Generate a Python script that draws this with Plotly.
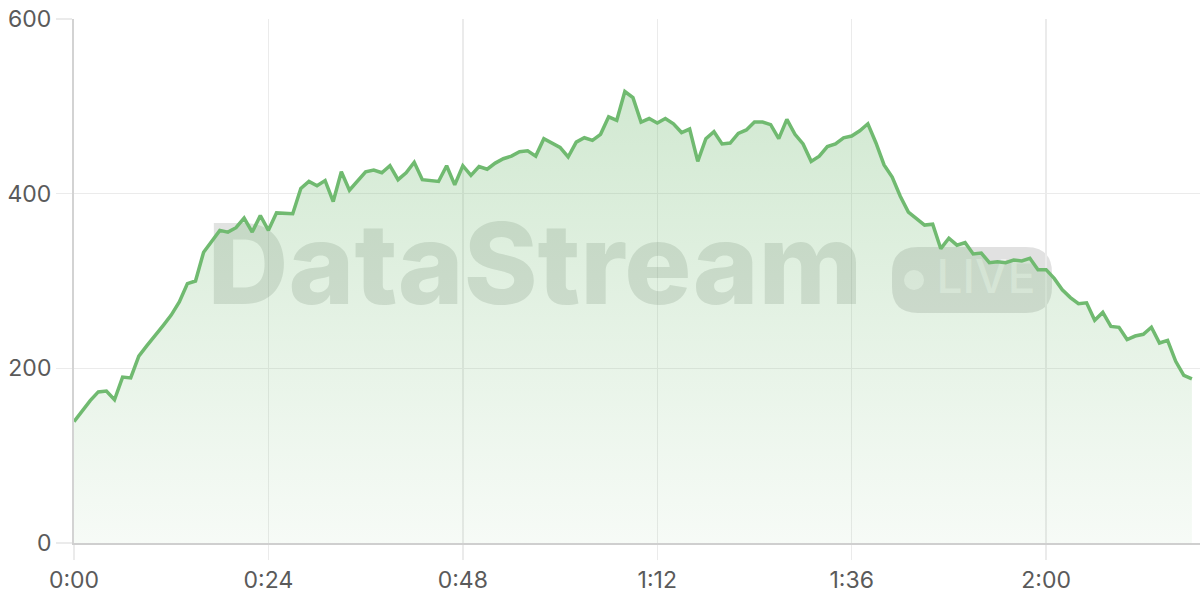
import plotly.graph_objects as go

# elapsed time in seconds (one sample per second)
seconds = list(range(139))
values = [139, 151, 163, 173, 174, 164, 190, 189, 214, 226, 237, 249, 261, 276, 297, 300, 333, 345, 358, 356,
          361, 372, 356, 375, 358, 378, 378, 377, 406, 414, 409, 415, 391, 425, 404, 414, 425, 427, 424, 432,
          416, 424, 436, 416, 415, 414, 432, 410, 432, 421, 431, 428, 435, 440, 443, 448, 449, 443, 463, 458,
          453, 442, 459, 464, 461, 468, 488, 484, 517, 510, 482, 486, 481, 486, 480, 470, 474, 437, 463, 471,
          457, 458, 469, 473, 482, 482, 479, 463, 485, 468, 457, 437, 443, 454, 457, 464, 466, 472, 480, 458,
          433, 419, 397, 379, 372, 364, 365, 337, 349, 341, 344, 331, 332, 321, 322, 321, 324, 323, 326, 313,
          313, 303, 290, 281, 274, 275, 255, 264, 248, 247, 233, 237, 239, 247, 229, 232, 208, 192, 188]
x_tick_values = [0, 24, 48, 72, 96, 120]
x_tick_labels = ["0:00", "0:24", "0:48", "1:12", "1:36", "2:00"]
y_tick_values = [0, 200, 400, 600]

W, H = 1200, 600
ML, MR, MT, MB = 74, 0, 19, 57
X_RANGE = [0, 139]
Y_RANGE = [0, 600]
PW, PH = W - ML - MR, H - MT - MB


def px_to_paper(px, py):
    return (px - ML) / PW, (H - MB - py) / PH


def px_to_data(px, py):
    fx, fy = px_to_paper(px, py)
    return X_RANGE[0] + fx * (X_RANGE[1] - X_RANGE[0]), Y_RANGE[0] + fy * (Y_RANGE[1] - Y_RANGE[0])


GREEN = "rgb(112,186,112)"

fig = go.Figure()

# watermark text (under the data)
wx, wy = px_to_data(535, 276)
lx, ly = px_to_data(986, 281)
fig.add_trace(go.Scatter(
    x=[wx], y=[wy], mode="text", text=["DataStream"], hoverinfo="skip", showlegend=False,
    textfont=dict(family="Inter", size=112, color="rgba(120,128,120,0.22)", weight=800),
))
fig.add_trace(go.Scatter(
    x=[lx], y=[ly], mode="text", text=["LIVE"], hoverinfo="skip", showlegend=False,
    textfont=dict(family="Inter", size=46, color="rgba(255,255,255,0.5)", weight=500),
))

fig.add_trace(go.Scatter(
    x=seconds, y=values, mode="lines",
    line=dict(color=GREEN, width=3.5),
    fill="tozeroy",
    fillgradient=dict(type="vertical", start=0, stop=520,
                      colorscale=[[0, "rgba(112,185,112,0.06)"], [1, "rgba(112,185,112,0.32)"]]),
    hoverinfo="skip", showlegend=False,
))

# LIVE badge rounded rectangle
x0, y0, x1, y1, r = 892, 247, 1052, 313, 26


def P(px, py):
    fx, fy = px_to_paper(px, py)
    return f"{fx:.5f},{fy:.5f}"


path = (f"M {P(x0 + r, y0)} L {P(x1 - r, y0)} Q {P(x1, y0)} {P(x1, y0 + r)} "
        f"L {P(x1, y1 - r)} Q {P(x1, y1)} {P(x1 - r, y1)} L {P(x0 + r, y1)} "
        f"Q {P(x0, y1)} {P(x0, y1 - r)} L {P(x0, y0 + r)} Q {P(x0, y0)} {P(x0 + r, y0)} Z")
fig.add_shape(type="path", path=path, xref="paper", yref="paper",
              fillcolor="rgba(128,128,128,0.24)", line=dict(width=0), layer="between")
cx0, cy0 = px_to_paper(914 - 10, 280 - 10)
cx1, cy1 = px_to_paper(914 + 10, 280 + 10)
fig.add_shape(type="circle", xref="paper", yref="paper", x0=cx0, y0=cy1, x1=cx1, y1=cy0,
              fillcolor="rgba(255,255,255,0.6)", line=dict(width=0), layer="between")

axis_font = dict(family="Inter, Roboto, sans-serif", size=23, color="#5a5a5a")
fig.update_layout(
    width=W, height=H, autosize=False,
    margin=dict(l=ML, r=MR, t=MT, b=MB, pad=0),
    paper_bgcolor="white", plot_bgcolor="white",
    hovermode=False,
    xaxis=dict(range=X_RANGE, tickvals=x_tick_values, ticktext=x_tick_labels,
               showgrid=True, gridcolor="#ebebeb", gridwidth=1.5,
               ticks="outside", ticklen=15, tickcolor="#ebebeb", tickwidth=1.5,
               showline=True, linecolor="#cfcfcf", linewidth=2,
               zeroline=False, tickfont=axis_font, fixedrange=True),
    yaxis=dict(range=Y_RANGE, tickvals=y_tick_values,
               showgrid=True, gridcolor="#ebebeb", gridwidth=1.5,
               ticks="outside", ticklen=16, tickcolor="#ebebeb", tickwidth=1.5,
               showline=True, linecolor="#d3d3d3", linewidth=2,
               zeroline=False, tickfont=axis_font, fixedrange=True),
)

fig.write_html("out.html", config={"displayModeBar": False, "staticPlot": True},
               post_script="document.body.style.margin='0';document.body.style.overflow='hidden';")
